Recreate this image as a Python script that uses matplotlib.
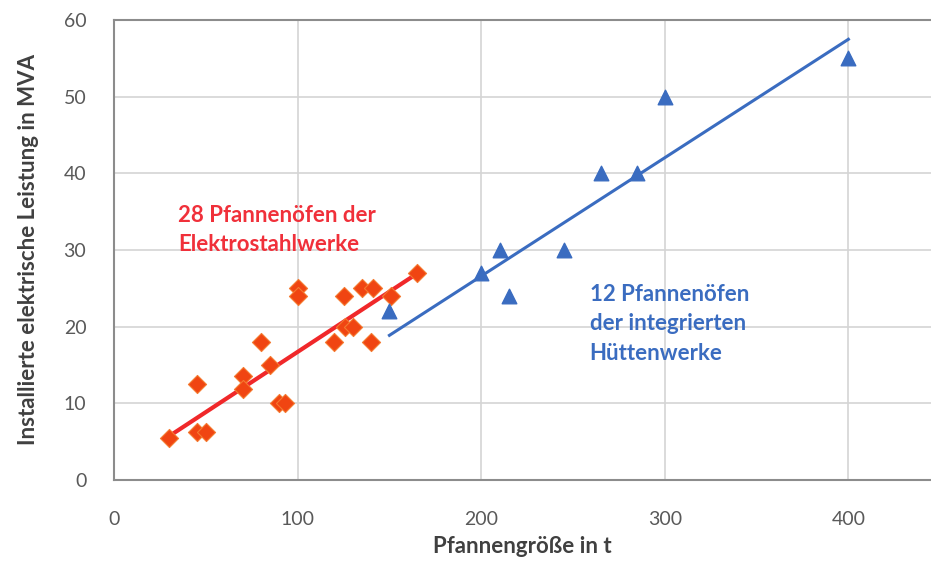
import numpy as np
import matplotlib
matplotlib.use("Agg")
import matplotlib.pyplot as plt

plt.rcParams['font.family'] = ['Lato', 'DejaVu Sans']

# Elektrostahlwerke (orange diamonds)
es_size = [30, 45, 50, 45, 70, 70, 80, 85, 90, 93, 100, 100, 120, 125, 126, 130,
           135, 141, 140, 151, 165]
es_mva = [5.5, 6.2, 6.2, 12.5, 13.5, 11.8, 18, 15, 10, 10, 25, 24, 18, 24, 20, 20,
          25, 25, 18, 24, 27]
# integrierte Huettenwerke (blue triangles)
hw_size = [150, 200, 210, 215, 245, 265, 285, 300, 400]
hw_mva = [22, 27, 30, 24, 30, 40, 40, 50, 55]

# trend lines: slope, intercept, x range
es_fit = (0.157, 1.0, 32, 162)
hw_fit = (0.1544, -4.3, 150, 400)

x_ticks = [0, 100, 200, 300, 400]
y_ticks = [0, 10, 20, 30, 40, 50, 60]

fig = plt.figure(figsize=(9.31, 5.66), dpi=100)
ax = fig.add_axes([0.1225, 0.152, 0.8775, 0.813])

ax.grid(True, color='#d4d4d4', linewidth=1.2)
ax.set_axisbelow(True)

fx = np.array(es_fit[2:])
ax.plot(fx, es_fit[0] * fx + es_fit[1], color='#f0282a', linewidth=3, zorder=2)
hx = np.array(hw_fit[2:])
ax.plot(hx, hw_fit[0] * hx + hw_fit[1], color='#3a6cc0', linewidth=2.2, zorder=2)

ax.scatter(es_size, es_mva, marker='D', s=85, color='#f04512',
           edgecolors='#f47a30', linewidths=0.8, zorder=3)
ax.scatter(hw_size, hw_mva, marker='^', s=110, color='#3a6cc0', zorder=3)

ax.text(35, 32.6, '28 Pfannenöfen der\nElektrostahlwerke', color='#f0303a',
        fontsize=16, fontweight='bold', linespacing=1.5, va='center', ha='left')
ax.text(259, 20.4, '12 Pfannenöfen\nder integrierten\nHüttenwerke', color='#3a6cc0',
        fontsize=16, fontweight='bold', linespacing=1.5, va='center', ha='left')

ax.set_xlim(0, 445)
ax.set_ylim(0, 60)
ax.set_xticks(x_ticks)
ax.set_yticks(y_ticks)
ax.tick_params(length=0, labelsize=14, labelcolor='#595959')
ax.tick_params(axis='x', pad=22)
ax.tick_params(axis='y', pad=20)

for side in ['left', 'bottom', 'top']:
    ax.spines[side].set_color('#8c8c8c')
    ax.spines[side].set_linewidth(1.5)
ax.spines['right'].set_visible(False)

ax.set_xlabel('Pfannengröße in t', fontsize=16, fontweight='bold',
              color='#404040', labelpad=6)
ax.set_ylabel('Installierte elektrische Leistung in MVA', fontsize=16,
              fontweight='bold', color='#404040', labelpad=18)

fig.savefig('out.png', dpi=100)
